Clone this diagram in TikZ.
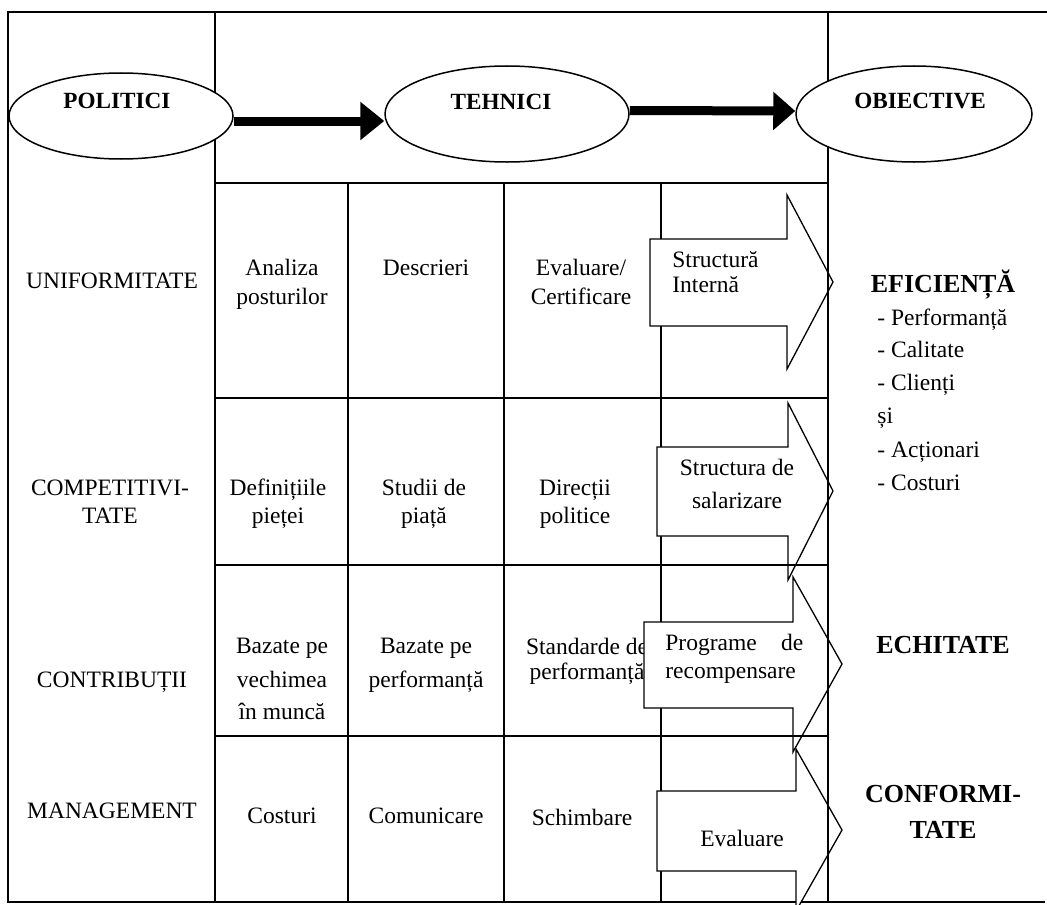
\documentclass[tikz,border=0pt]{standalone}
\usepackage{fontspec}
\setmainfont{Liberation Serif}
\usetikzlibrary{arrows.meta,shapes.geometric}

\begin{document}
\begin{tikzpicture}[x=0.5pt,y=-0.5pt,
  grid/.style={line width=1.2pt},
  oval/.style={draw, ellipse, line width=0.75pt, fill=white, inner sep=0pt},
  fat/.style={line width=4.5pt, -{Triangle[length=12pt,width=18.5pt]}},
  blockarrow/.style={draw, line width=0.65pt, fill=white, line join=miter},
  txt/.style={font=\fontsize{11.75}{14}\selectfont, inner sep=0pt, anchor=base},
  txtl/.style={txt, anchor=base west},
  hd/.style={font=\fontsize{11.6}{14}\selectfont\bfseries, inner sep=0pt, anchor=base},
  obj/.style={font=\fontsize{13}{15}\selectfont\bfseries, inner sep=0pt, anchor=base},
]
\useasboundingbox (0,0) rectangle (1047,904);

% ---- table frame and inner grid (lines hidden by the block arrows) ----
\draw[grid] (1047,12) -- (8,12) -- (8,902) -- (1045,902);
\draw[grid] (215,12) -- (215,902);
\draw[grid] (828,12) -- (828,183);
\draw[grid] (215,183) -- (828,183);
\draw[grid] (348,183) -- (348,902);
\draw[grid] (504,183) -- (504,902);
\draw[grid] (661,183) -- (661,902);

% ---- policy column ----
\node[txt] (uni) at (112,288) {UNIFORMITATE};
\node[txt] (comp1) at (110,495) {COMPETITIVI-};
\node[txt] (comp2) at (110,523) {TATE};
\node[txt] (contr) at (112,687) {CONTRIBUȚII};
\node[txt] (mgmt) at (112,818) {MANAGEMENT};

% ---- technique cells ----
\node[txt] (r1a1) at (282,275) {Analiza};
\node[txt] (r1a2) at (282,304) {posturilor};
\node[txt] (r1b) at (426,275) {Descrieri};
\node[txt] (r1c1) at (581,275) {Evaluare/};
\node[txt] (r1c2) at (581,304) {Certificare};

\node[txt] (r2a1) at (278,495) {Definițiile};
\node[txt] (r2a2) at (278,523) {pieței};
\node[txt] (r2b1) at (424,495) {Studii de};
\node[txt] (r2b2) at (424,523) {piață};
\node[txt] (r2c1) at (575,495) {Direcții};
\node[txt] (r2c2) at (575,523) {politice};

\node[txt] (r3a1) at (282,653) {Bazate pe};
\node[txt] (r3a2) at (282,687) {vechimea};
\node[txt] (r3a3) at (282,719) {în muncă};
\node[txt] (r3b1) at (426,653) {Bazate pe};
\node[txt] (r3b2) at (426,687) {performanță};
\node[txt] (r3c1) at (587,654) {Standarde de};
\node[txt] (r3c2) at (587,679) {performanță};

\node[txt] (r4a) at (282,823) {Costuri};
\node[txt] (r4b) at (426,823) {Comunicare};
\node[txt] (r4c) at (582,825) {Schimbare};

% ---- objectives column ----
\node[obj] (efic) at (943,292) {EFICIENȚĂ};
\node[txtl] (l1) at (877,325) {- Performanță};
\node[txtl] (l2) at (877,357) {- Calitate};
\node[txtl] (l3) at (877,390) {- Clienți};
\node[txtl] (l4) at (877,423) {și};
\node[txtl] (l5) at (877,457) {- Acționari};
\node[txtl] (l6) at (877,490) {- Costuri};
\node[obj] (echit) at (943,653) {ECHITATE};
\node[obj] (conf1) at (943,802) {CONFORMI-};
\node[obj] (conf2) at (943,838) {TATE};

% ---- header: policies -> techniques -> objectives ----
\node[oval, minimum width=112pt, minimum height=43pt] (pol) at (121,116) {};
\node[oval, minimum width=122pt, minimum height=48pt] (teh) at (507,114) {};
\node[oval, minimum width=118pt, minimum height=48pt] (obi) at (914,114) {};
\node[hd] (polt) at (117,108) {POLITICI};
\node[hd] (teht) at (501,110) {TEHNICI};
\node[hd] (obit) at (920,108) {OBIECTIVE};
\draw[fat] ([yshift=-2.5pt]pol.east) -- ([yshift=-3.5pt]teh.west);
\draw[fat,-{Triangle[length=11pt,width=18.5pt]}] ([yshift=1.75pt]teh.east) -- ([yshift=1.5pt]obi.west);

% ---- block arrows of the compensation structures ----
\begin{scope}
\clip (0,0) rectangle (1047,904);
\draw[blockarrow] (650,239) -- (787,239) -- (787,195) -- (833,282) -- (787,369) -- (787,326) -- (650,326) -- cycle;
\draw[blockarrow] (657,447) -- (788,447) -- (788,403) -- (833,491) -- (788,580) -- (788,536) -- (657,536) -- cycle;
\draw[blockarrow] (644,622) -- (793,622) -- (793,577) -- (842,664) -- (793,752) -- (793,708) -- (644,708) -- cycle;
\draw[blockarrow] (657,791) -- (796,791) -- (796,749) -- (842,830) -- (796,911) -- (796,871) -- (657,871) -- cycle;
\end{scope}

\node[txtl] (a1a) at (672,267) {Structură};
\node[txtl] (a1b) at (672,292) {Internă};
\node[txt] (a2a) at (737,475) {Structura de};
\node[txt] (a2b) at (737,508) {salarizare};
\node[txtl] (a3a) at (665,650) {\makebox[69pt][s]{Programe de}};
\node[txtl] (a3b) at (665,678) {recompensare};
\node[txt] (a4) at (742,846) {Evaluare};

% ---- lines that stay visible across the arrow heads ----
\draw[grid] (828,183) -- (828,902);
\draw[grid] (215,398) -- (828,398);
\draw[grid] (215,565) -- (828,565);
\draw[grid] (215,736) -- (828,736);
\end{tikzpicture}
\end{document}
